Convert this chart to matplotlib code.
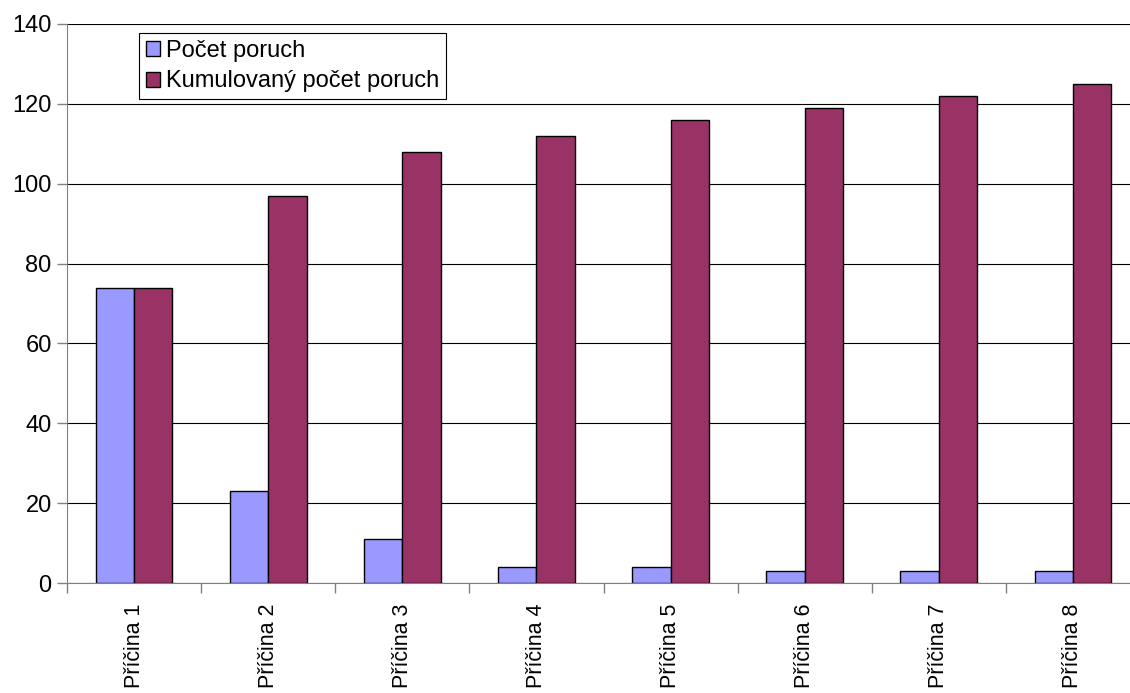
import numpy as np
import matplotlib.pyplot as plt

# --- data ---
categories = ['Příčina 1', 'Příčina 2', 'Příčina 3', 'Příčina 4',
              'Příčina 5', 'Příčina 6', 'Příčina 7', 'Příčina 8']
pocet_poruch = [74, 23, 11, 4, 4, 3, 3, 3]
kumulovany = [74, 97, 108, 112, 116, 119, 122, 125]

plt.rcParams['font.family'] = ['Liberation Sans', 'DejaVu Sans']
FS = 17

W, H = 1130, 693
fig = plt.figure(figsize=(W / 100, H / 100), dpi=100)
# plot area runs a bit past the right edge, like the original
ax = fig.add_axes([67 / W, (H - 583) / H, (1140 - 67) / W, (583 - 24) / H])

x = np.arange(len(categories))
bw = 1 / 3.5  # excel gap width 150%
ax.bar(x - bw / 2, pocet_poruch, bw, color='#9999FF', edgecolor='black',
       linewidth=1, label='Počet poruch', zorder=3)
ax.bar(x + bw / 2, kumulovany, bw, color='#993366', edgecolor='black',
       linewidth=1, label='Kumulovaný počet poruch', zorder=3)

ax.set_xlim(-0.5, len(categories) - 0.5)
ax.set_ylim(0, 140)
ax.set_yticks(range(0, 141, 20))
ax.yaxis.grid(True, color='black', linewidth=0.8, zorder=0)

# category ticks between groups, labels centred
ax.set_xticks(np.arange(-0.5, len(categories), 1))
ax.set_xticklabels([])
ax.set_xticks(x, minor=True)
ax.set_xticklabels(categories, minor=True, rotation=90, fontsize=15.5)
ax.tick_params(axis='x', which='minor', length=0, pad=15)
ax.tick_params(axis='x', which='major', length=7, color='#808080', width=1)
ax.tick_params(axis='y', length=7, color='#808080', width=1, labelsize=FS, pad=4)

for s in ['top', 'right']:
    ax.spines[s].set_visible(False)
ax.spines['left'].set_color('#808080')
ax.spines['bottom'].set_color('#808080')

leg = ax.legend(loc='upper left', bbox_to_anchor=((139 - 67) / 1073, 1 - 9 / 559),
                fontsize=FS, frameon=True, fancybox=False, framealpha=1,
                edgecolor='black', handlelength=0.6, handleheight=0.6,
                handletextpad=0.25, borderpad=0.3, labelspacing=0.35,
                borderaxespad=0)
leg.get_frame().set_linewidth(0.8)

fig.savefig('out.png', dpi=100)
